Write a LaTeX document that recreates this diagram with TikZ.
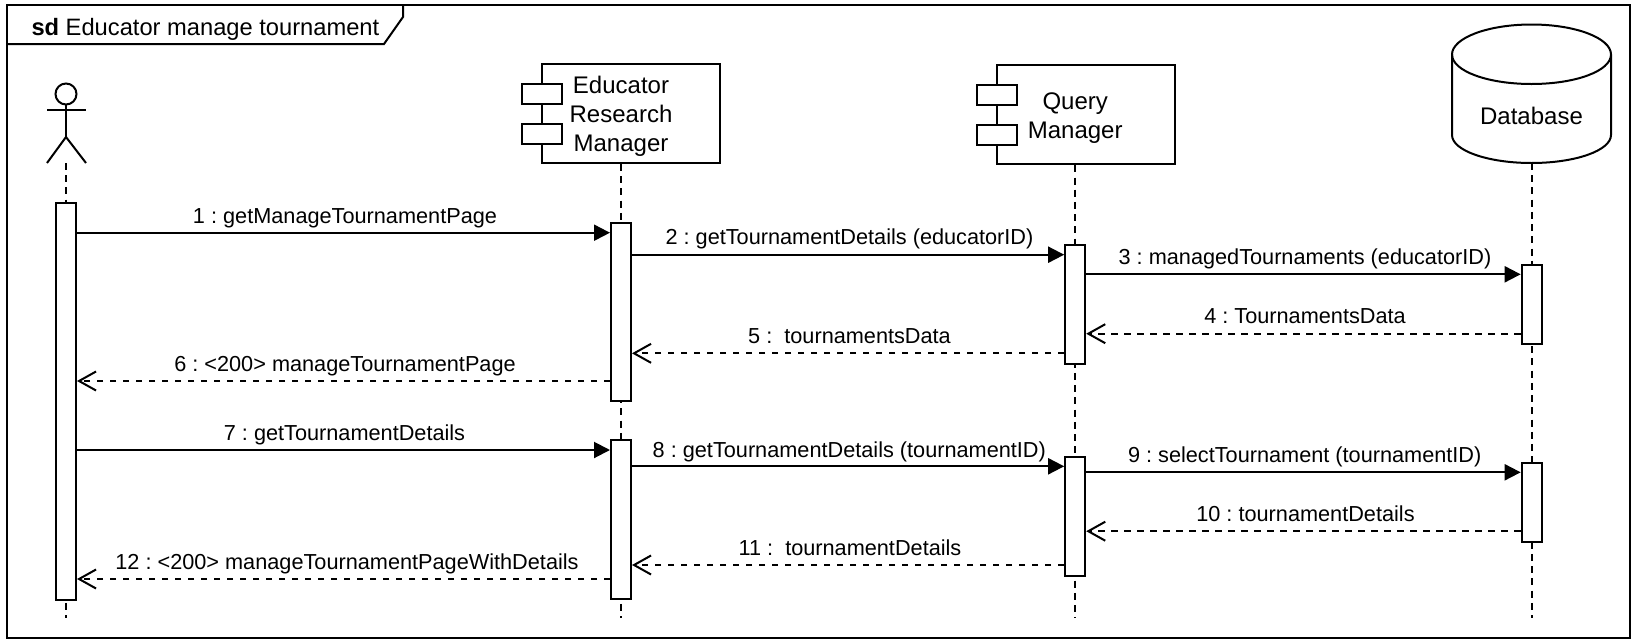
\documentclass[tikz,border=0pt]{standalone}
\usepackage{fontspec}
\setmainfont{Liberation Sans}
\usetikzlibrary{arrows.meta}
\tikzset{
  x=1pt,y=-1pt,
  every path/.style={line width=2pt},
  frameline/.style={draw=black,line width=2pt},
  compbox/.style={draw=black,fill=white,line width=2pt,minimum width=178pt,minimum height=99pt,inner sep=0pt},
  comptext/.style={inner sep=0pt,align=center,font=\fontsize{24}{29}\selectfont},
  port/.style={draw=black,fill=white,line width=2pt,minimum width=40pt,minimum height=20pt,inner sep=0pt},
  actbar/.style={draw=black,fill=white,line width=2pt,minimum width=20pt,inner sep=0pt,anchor=north},
  lifeline/.style={line width=2pt,dash pattern=on 7pt off 5.216pt},
  callmsg/.style={line width=2pt,-{Triangle[length=16pt,width=16pt]}},
  retmsg/.style={line width=2pt,dash pattern=on 6.5pt off 6.5pt,-{Straight Barb[length=17pt,width=19pt,line width=2pt]}},
  msglabel/.style={anchor=base,inner sep=0pt,font=\fontsize{21.7}{26}\selectfont},
}
\begin{document}
\frenchspacing
\begin{tikzpicture}
\useasboundingbox (0,0) rectangle (1636,643);
% frame
\draw[frameline] (7,5) rectangle (1630,638);
\draw[frameline] (7,44) -- (384,44) -- (403,17) -- (403,5);
\node[anchor=base west,inner sep=0pt,font=\fontsize{23.7}{28}\selectfont] (title) at (30.5,35) {\textbf{sd} Educator manage tournament};
% lifeline ends
\coordinate (actorfoot) at (66,163);
\coordinate (actorend) at (66,618);
\node[compbox] (erm) at (631,113.5) {};
\node[comptext] (ermtext) at (621,116.5) {Educator\\Research\\Manager};
\coordinate (ermend) at (621,618);
\node[compbox] (qm) at (1085.5,114.8) {};
\node[comptext] (qmtext) at (1075.2,118.5) {Query\\Manager};
\coordinate (qmend) at (1075.2,618);
\coordinate (dbfoot) at (1531.7,163);
\coordinate (dbend) at (1531.7,618);
% lifelines
\draw[lifeline] (actorfoot) -- (actorend);
\draw[lifeline] (erm.south -| ermend) -- (ermend);
\draw[lifeline] (qm.south -| qmend) -- (qmend);
\draw[lifeline] (dbfoot) -- (dbend);
% ports
\node[port] (ermp1) at (542,94) {};
\node[port] (ermp2) at (542,133.5) {};
\node[port] (qmp1) at (996.5,95.3) {};
\node[port] (qmp2) at (996.5,135.3) {};
% actor
\draw (66,94) circle (10.5);
\draw (66,104.5) -- (66,137);
\draw (47,110) -- (86,110);
\draw (47,163) -- (66,137) -- (86,163);
% database
\draw[fill=white] (1452,54.5) .. controls (1452,38) and (1487.6,24.5) .. (1531.5,24.5) .. controls (1575.4,24.5) and (1611,38) .. (1611,54.5) -- (1611,135) .. controls (1611,150.5) and (1575.4,163) .. (1531.5,163) .. controls (1487.6,163) and (1452,150.5) .. (1452,135) -- cycle;
\draw (1452,54.5) .. controls (1452,71) and (1487.6,84) .. (1531.5,84) .. controls (1575.4,84) and (1611,71) .. (1611,54.5);
\node[inner sep=0pt,font=\fontsize{24}{29}\selectfont] (db) at (1531.5,116) {Database};
% activations
\node[actbar,minimum height=396.5pt] (a1) at (66,202) {};
\node[actbar,minimum height=178.3pt] (e1) at (621,222) {};
\node[actbar,minimum height=159pt] (e2) at (621,439.2) {};
\node[actbar,minimum height=118.5pt] (q1) at (1075.2,244.3) {};
\node[actbar,minimum height=118.5pt] (q2) at (1075.2,456) {};
\node[actbar,minimum height=79pt] (d1) at (1531.7,264) {};
\node[actbar,minimum height=78.7pt] (d2) at (1531.7,462) {};
% message rows
\coordinate (m1) at (0,232.7);
\coordinate (m2) at (0,254.7);
\coordinate (m3) at (0,274.3);
\coordinate (m4) at (0,333.7);
\coordinate (m5) at (0,353.3);
\coordinate (m6) at (0,381);
\coordinate (m7) at (0,450);
\coordinate (m8) at (0,466.3);
\coordinate (m9) at (0,472.3);
\coordinate (m10) at (0,531.2);
\coordinate (m11) at (0,565);
\coordinate (m12) at (0,579);
% messages
\draw[callmsg] (a1.east |- m1) -- (e1.west |- m1);
\draw[callmsg] (e1.east |- m2) -- (q1.west |- m2);
\draw[callmsg] (q1.east |- m3) -- (d1.west |- m3);
\draw[retmsg] (d1.west |- m4) -- (q1.east |- m4);
\draw[retmsg] (q1.west |- m5) -- (e1.east |- m5);
\draw[retmsg] (e1.west |- m6) -- (a1.east |- m6);
\draw[callmsg] (a1.east |- m7) -- (e2.west |- m7);
\draw[callmsg] (e2.east |- m8) -- (q2.west |- m8);
\draw[callmsg] (q2.east |- m9) -- (d2.west |- m9);
\draw[retmsg] (d2.west |- m10) -- (q2.east |- m10);
\draw[retmsg] (q2.west |- m11) -- (e2.east |- m11);
\draw[retmsg] (e2.west |- m12) -- (a1.east |- m12);
% labels
\node[msglabel] (l1) at (345,223.2) {1 : getManageTournamentPage};
\node[msglabel] (l2) at (849.5,244.3) {2 : getTournamentDetails (educatorID)};
\node[msglabel] (l3) at (1305,264.5) {3 : managedTournaments (educatorID)};
\node[msglabel] (l4) at (1305,323.8) {4 : TournamentsData};
\node[msglabel] (l5) at (849.5,343.2) {5 :\ \ tournamentsData};
\node[msglabel] (l6) at (345,371) {6 : <200> manageTournamentPage};
\node[msglabel] (l7) at (344.5,440) {7 : getTournamentDetails};
\node[msglabel] (l8) at (849.3,457) {8 : getTournamentDetails (tournamentID)};
\node[msglabel] (l9) at (1304.7,462.2) {9 : selectTournament (tournamentID)};
\node[msglabel] (l10) at (1305.5,521.7) {10 : tournamentDetails};
\node[msglabel] (l11) at (850,555.3) {11 :\ \ tournamentDetails};
\node[msglabel] (l12) at (347,569) {12 : <200> manageTournamentPageWithDetails};
\end{tikzpicture}
\end{document}
